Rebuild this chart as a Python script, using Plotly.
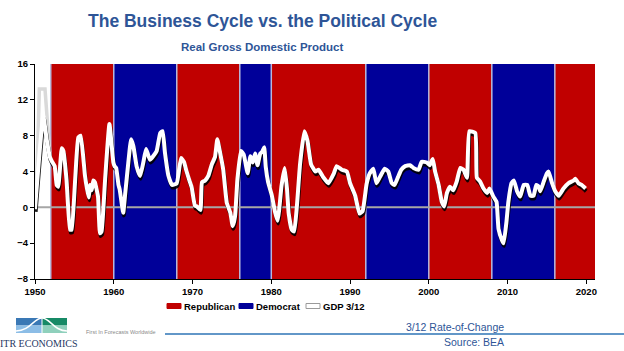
import plotly.graph_objects as go

# ---------------- data ----------------
rep_start = [1952, 1968, 1980, 2000, 2016]
rep_end = [1960, 1976, 1992, 2008, 2021.1]
dem_start = [1960, 1976, 1992, 2008]
dem_end = [1968, 1980, 2000, 2016]

gdp_years = [1950.0, 1951.05, 1951.5, 1951.9, 1952.1, 1952.5, 1952.75, 1952.95, 1953.4, 1953.6,
             1954.0, 1954.45, 1954.65, 1955.1, 1955.5, 1955.8, 1956.35, 1956.8, 1957.0, 1957.2,
             1957.4, 1957.6, 1958.0, 1958.25, 1958.45, 1958.9, 1959.45, 1959.95, 1960.1, 1960.3,
             1960.6, 1960.75, 1961.2, 1961.45, 1961.85, 1962.2, 1962.5, 1962.9, 1963.35, 1963.75,
             1964.1, 1964.35, 1964.6, 1965.0, 1965.45, 1965.9, 1966.2, 1966.5, 1966.95, 1967.4,
             1968.0, 1968.55, 1968.9, 1969.25, 1969.6, 1969.9, 1970.3, 1970.55, 1971.0, 1971.2,
             1971.6, 1972.0, 1972.45, 1972.85, 1973.15, 1973.5, 1973.9, 1974.35, 1974.8, 1975.1,
             1975.4, 1975.7, 1976.15, 1976.5, 1977.0, 1977.35, 1977.65, 1977.95, 1978.25, 1978.6,
             1978.85, 1979.1, 1979.3, 1979.6, 1980.05, 1980.5, 1980.8, 1981.0, 1981.3, 1981.7,
             1982.0, 1982.2, 1982.6, 1982.9, 1983.25, 1983.65, 1984.2, 1984.6, 1985.05, 1985.6,
             1986.0, 1986.65, 1987.25, 1987.9, 1988.3, 1988.95, 1989.6, 1990.0, 1990.65, 1991.2,
             1991.6, 1992.1, 1992.5, 1992.95, 1993.35, 1993.8, 1994.4, 1994.85, 1995.3, 1995.65,
             1996.1, 1996.5, 1997.0, 1997.6, 1998.05, 1998.7, 1999.1, 1999.75, 2000.1, 2000.5,
             2000.8, 2001.25, 2001.65, 2001.95, 2002.3, 2002.7, 2003.1, 2003.55, 2004.0, 2004.4,
             2004.85, 2005.15, 2005.9, 2006.1, 2006.5, 2006.95, 2007.4, 2007.7, 2008.2, 2008.6,
             2008.85, 2009.3, 2009.5, 2009.85, 2010.1, 2010.5, 2010.8, 2011.2, 2011.6, 2012.05,
             2012.5, 2012.9, 2013.3, 2013.65, 2013.95, 2014.15, 2014.6, 2015.0, 2015.2, 2015.65,
             2016.05, 2016.5, 2017.1, 2017.75, 2018.4, 2018.6, 2019.0, 2019.4, 2019.9]
gdp_values = [-0.2, 10.2, 7.5, 5.6, 5.2, 4.6, 2.5, 2.3, 6.6, 6.3,
              3.1, -2.5, -2.5, 3.1, 7.8, 8.0, 3.5, 1.1, 2.5, 1.9,
              3.0, 2.8, 1.2, -2.9, -2.7, 3.1, 9.3, 5.0, 4.6, 4.4,
              2.5, 2.0, -0.6, 1.5, 5.0, 7.6, 6.8, 4.6, 3.5, 5.0,
              6.5, 5.9, 5.3, 5.7, 6.3, 8.3, 8.5, 6.1, 3.5, 2.5,
              2.7, 5.5, 5.1, 4.0, 3.0, 2.2, 0.2, 0.1, -0.3, 2.8,
              3.0, 3.5, 4.8, 5.6, 7.6, 6.1, 4.2, 0.5, -0.6, -2.1,
              -1.0, 3.1, 6.3, 5.9, 3.8, 5.7, 5.0, 6.0, 4.7, 6.0,
              6.2, 6.7, 4.5, 2.8, 1.4, -0.6, -1.5, -0.3, 2.4, 4.4,
              2.0, -0.6, -2.5, -2.7, 0.1, 4.8, 8.5, 7.4, 4.8, 4.0,
              4.2, 3.3, 2.7, 3.7, 4.6, 4.2, 4.0, 2.7, 1.3, -0.7,
              -0.4, 2.6, 3.8, 4.3, 2.7, 3.4, 4.3, 4.0, 2.7, 2.5,
              3.4, 4.2, 4.6, 4.7, 4.4, 4.2, 5.1, 5.0, 4.7, 5.4,
              4.0, 2.5, 0.6, 0.1, 1.6, 2.3, 1.9, 2.9, 4.4, 4.2,
              3.3, 8.5, 8.3, 3.3, 2.9, 2.1, 1.6, 2.1, 1.2, 0.6,
              -2.4, -3.7, -4.0, -1.7, 0.6, 2.7, 3.0, 1.8, 1.2, 2.5,
              2.5, 1.3, 1.3, 2.5, 2.3, 1.8, 2.9, 3.8, 4.0, 2.7,
              1.8, 1.3, 2.1, 2.7, 3.0, 3.2, 2.7, 2.5, 2.1]

# light gray early trace visible in the white (pre-1952) area
early_years = [1950.05, 1950.2, 1950.55, 1951.27, 1951.9]
early_values = [0.5, 2.0, 13.2, 13.2, 5.7]

x_ticks = [1950, 1960, 1970, 1980, 1990, 2000, 2010, 2020]
y_ticks = [-8, -4, 0, 4, 8, 12, 16]
x_range = [1950, 2021.1]
y_range = [-8, 16]

legend_labels = ["Republican", "Democrat", "GDP 3/12"]

# ---------------- styling ----------------
RED = "#C00000"
BLUE = "#000099"
TITLE_BLUE = "#2E5597"
SANS = "Liberation Sans, Arial, sans-serif"
W, H = 624, 351
ML, MR, MT, MB = 35, 29, 64, 72
PW, PH = W - ML - MR, H - MT - MB


def px2x(px):
    return (px - ML) / PW


def py2y(py):
    return (H - MB - py) / PH


fig = go.Figure()

shapes = []
for s, e in zip(rep_start, rep_end):
    shapes.append(dict(type="rect", xref="x", yref="y", x0=s, x1=e, y0=y_range[0], y1=y_range[1],
                       fillcolor=RED, line=dict(width=0), layer="below"))
for s, e in zip(dem_start, dem_end):
    shapes.append(dict(type="rect", xref="x", yref="y", x0=s, x1=e, y0=y_range[0], y1=y_range[1],
                       fillcolor=BLUE, line=dict(width=0), layer="below"))

# separators at each term boundary
bounds = sorted(set(rep_start + dem_start))
sx, sy = [], []
for b in bounds:
    sx += [b, b, None]
    sy += [y_range[0], y_range[1], None]
fig.add_trace(go.Scatter(x=sx, y=sy, mode="lines", line=dict(color="#B8B8DC", width=1.5),
                         hoverinfo="skip", showlegend=False))

# zero line
fig.add_trace(go.Scatter(x=x_range, y=[0, 0], mode="lines", line=dict(color="#A6A6A6", width=2),
                         hoverinfo="skip", showlegend=False))

# early light-gray line
fig.add_trace(go.Scatter(x=early_years, y=early_values, mode="lines",
                         line=dict(color="#D9D9D9", width=3.5), hoverinfo="skip", showlegend=False))

# shadow of GDP line
fig.add_trace(go.Scatter(x=[v + 0.08 for v in gdp_years], y=[v - 0.3 for v in gdp_values], mode="lines",
                         line=dict(color="rgba(0,0,0,0.9)", width=4, shape="spline", smoothing=0.4),
                         hoverinfo="skip", showlegend=False))
# GDP line
fig.add_trace(go.Scatter(x=gdp_years, y=gdp_values, mode="lines", name="GDP 3/12",
                         line=dict(color="white", width=4, shape="spline", smoothing=0.4), showlegend=False))

# ---------------- manual legend ----------------
annotations = []
leg_items = [(legend_labels[0], RED, RED, 167), (legend_labels[1], BLUE, BLUE, 239),
             (legend_labels[2], "white", "#9A9A9A", 306)]
for label, fill, edge, x0 in leg_items:
    shapes.append(dict(type="rect", xref="paper", yref="paper", x0=px2x(x0), x1=px2x(x0 + 14),
                       y0=py2y(308.5), y1=py2y(303.5), fillcolor=fill, line=dict(color=edge, width=1)))
    annotations.append(dict(xref="paper", yref="paper", x=px2x(x0 + 15), y=py2y(306), xanchor="left",
                            yanchor="middle", text=label, showarrow=False,
                            font=dict(family=SANS, size=9.5, color="black", weight="bold")))

# ---------------- titles ----------------
annotations.append(dict(xref="paper", yref="paper", x=px2x(262), y=py2y(21), xanchor="center", yanchor="middle",
                        text="The Business Cycle vs. the Political Cycle", showarrow=False,
                        font=dict(family=SANS, size=17.5, color=TITLE_BLUE, weight="bold")))
annotations.append(dict(xref="paper", yref="paper", x=px2x(262), y=py2y(47), xanchor="center", yanchor="middle",
                        text="Real Gross Domestic Product", showarrow=False,
                        font=dict(family=SANS, size=11.5, color=TITLE_BLUE, weight="bold")))

# ---------------- footer ----------------
annotations.append(dict(xref="paper", yref="paper", x=px2x(506), y=py2y(327), xanchor="right", yanchor="middle",
                        text="3/12 Rate-of-Change", showarrow=False,
                        font=dict(family=SANS, size=10.5, color=TITLE_BLUE)))
annotations.append(dict(xref="paper", yref="paper", x=px2x(506), y=py2y(342), xanchor="right", yanchor="middle",
                        text="Source: BEA", showarrow=False,
                        font=dict(family=SANS, size=10.5, color=TITLE_BLUE)))
annotations.append(dict(xref="paper", yref="paper", x=px2x(121), y=py2y(332), xanchor="center", yanchor="middle",
                        text="First In Forecasts Worldwide", showarrow=False,
                        font=dict(family=SANS, size=5.5, color="#8A8A8A")))
annotations.append(dict(xref="paper", yref="paper", x=px2x(39), y=py2y(343), xanchor="center", yanchor="middle",
                        text="ITR ECONOMICS", showarrow=False,
                        font=dict(family="Liberation Serif, Times New Roman, serif", size=10, color="#1F3864")))
shapes.append(dict(type="line", xref="paper", yref="paper", x0=px2x(165), x1=px2x(630),
                   y0=py2y(334), y1=py2y(334), line=dict(color="#2E75B6", width=1.5)))

# logo blocks
logo = [(16, 42, 318, 325.5, "#3A78B5"), (42, 67, 318, 325.5, "#178A66"),
        (16, 42, 325.5, 333, "#8CBDE6"), (42, 67, 325.5, 333, "#8FD0BC")]
for x0, x1, y0, y1, c in logo:
    shapes.append(dict(type="rect", xref="paper", yref="paper", x0=px2x(x0), x1=px2x(x1),
                       y0=py2y(y1), y1=py2y(y0), fillcolor=c, line=dict(width=0)))
curve = "M {},{} C {},{} {},{} {},{} C {},{} {},{} {},{}".format(
    px2x(16), py2y(331), px2x(30), py2y(331), px2x(34), py2y(318), px2x(42), py2y(318),
    px2x(50), py2y(318), px2x(54), py2y(331), px2x(67), py2y(331))
shapes.append(dict(type="path", xref="paper", yref="paper", path=curve, line=dict(color="white", width=1.5)))
shapes.append(dict(type="line", xref="paper", yref="paper", x0=px2x(42), x1=px2x(42), y0=py2y(333), y1=py2y(318),
                   line=dict(color="white", width=1)))

tickfont = dict(family=SANS, size=9.5, color="black", weight="bold")
fig.update_layout(
    width=W, height=H, margin=dict(l=ML, r=MR, t=MT, b=MB, pad=0),
    paper_bgcolor="white", plot_bgcolor="white", showlegend=False,
    shapes=shapes, annotations=annotations,
    xaxis=dict(range=x_range, tickvals=x_ticks, ticks="outside", ticklen=4, tickcolor="black",
               showline=True, linecolor="black", linewidth=1, showgrid=False, zeroline=False,
               tickfont=tickfont),
    yaxis=dict(range=y_range, tickvals=y_ticks, ticks="outside", ticklen=4, tickcolor="black",
               showline=True, linecolor="black", linewidth=1, mirror=False, showgrid=False, zeroline=False,
               tickfont=tickfont),
)
fig.write_html("out.html")
